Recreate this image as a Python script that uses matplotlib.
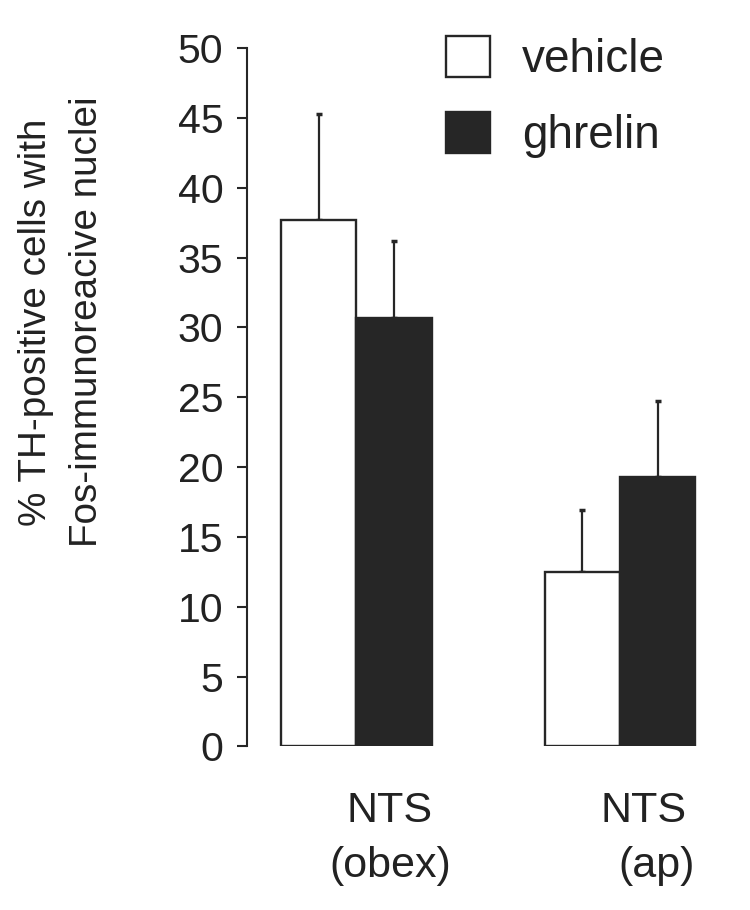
import matplotlib
matplotlib.use("Agg")
import matplotlib.pyplot as plt
import numpy as np

# data
regioes = ["NTS\n(obex)", "NTS\n(ap)"]
vehicle = [37.7, 12.5]
vehicle_err = [7.6, 4.4]
ghrelin = [30.7, 19.3]
ghrelin_err = [5.5, 5.4]
yticks = [0, 5, 10, 15, 20, 25, 30, 35, 40, 45, 50]

COR_ESCURA = "#262626"
COR_TEXTO = "#222222"

plt.rcParams["font.family"] = ["Liberation Sans", "DejaVu Sans"]

fig = plt.figure(figsize=(7.5, 9.1), dpi=100)
ax = fig.add_axes([0.3293, 0.1797, 0.63, 0.7676])

x = np.arange(len(regioes))
w = 0.285
err_kw = dict(ecolor=COR_ESCURA, elinewidth=1.6, capsize=2.2, capthick=2.5)

ax.bar(x - w / 2, vehicle, w, color="white", edgecolor=COR_ESCURA,
       linewidth=1.7, label="vehicle", zorder=2)
ax.errorbar(x - w / 2, vehicle, yerr=[np.zeros(len(x)), vehicle_err],
            fmt="none", zorder=1, **err_kw)
ax.bar(x + w / 2, ghrelin, w, color=COR_ESCURA, edgecolor=COR_ESCURA,
       linewidth=1.7, label="ghrelin", zorder=2)
ax.errorbar(x + w / 2, ghrelin, yerr=[np.zeros(len(x)), ghrelin_err],
            fmt="none", zorder=1, **err_kw)

ax.set_xlim(-0.4148, 1.377)
ax.set_ylim(0, 50)
ax.set_yticks(yticks)
ax.set_yticklabels([str(t) for t in yticks], fontsize=29.5, color=COR_TEXTO)
ax.tick_params(axis="y", length=7, width=1.5, pad=10, color=COR_ESCURA)
ax.set_xticks([])
for s in ["top", "right", "bottom"]:
    ax.spines[s].set_visible(False)
ax.spines["left"].set_linewidth(1.5)
ax.spines["left"].set_color(COR_ESCURA)

# rotulos das regioes (duas linhas, deslocados como no original)
desloc = [(0.127, 0.127), (1.089, 1.14)]
trans = ax.get_xaxis_transform()
for (l1, l2), nome in zip(desloc, regioes):
    a, b = nome.split("\n")
    ax.text(l1, -0.108, a, transform=trans, ha="center", va="baseline",
            fontsize=31, color=COR_TEXTO, clip_on=False)
    ax.text(l2, -0.187, b, transform=trans, ha="center", va="baseline",
            fontsize=31, color=COR_TEXTO, clip_on=False)

fig.text(0.082, 0.646, "% TH-positive cells with\nFos-immunoreacive nuclei",
         rotation=90, ha="center", va="center", multialignment="center",
         fontsize=27.8, color=COR_TEXTO, linespacing=1.55)

leg = ax.legend(loc="upper left", bbox_to_anchor=(446 / 750, 1 - 36 / 910),
                bbox_transform=fig.transFigure, frameon=False, fontsize=33,
                handlelength=0.95, handleheight=1.0, handletextpad=0.7,
                labelspacing=0.65, borderpad=0, borderaxespad=0)
for t in leg.get_texts():
    t.set_color(COR_TEXTO)

fig.savefig("out.png", dpi=100, facecolor="white")
